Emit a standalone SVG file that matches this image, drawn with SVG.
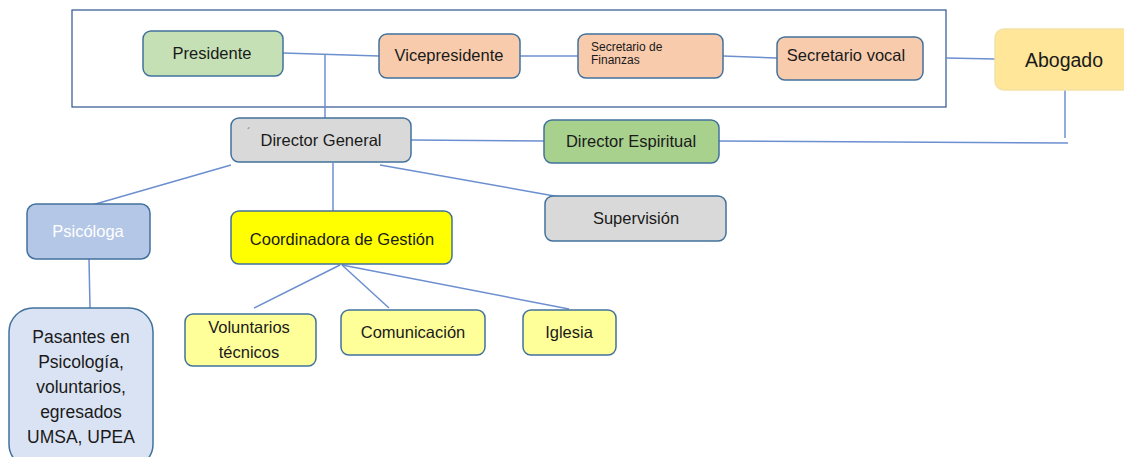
<svg xmlns="http://www.w3.org/2000/svg" width="1124" height="457" viewBox="0 0 1124 457">
<style>
.n{stroke:#41719C;stroke-width:1.5}
.t{font-family:"Liberation Sans",Arial,sans-serif;font-size:16.5px;fill:#1a1a1a;text-anchor:middle}
.c{stroke:#6C8FD0;stroke-width:1.5;fill:none}
</style>
<rect width="1124" height="457" fill="#ffffff"/>
<rect x="72" y="10" width="874" height="97" fill="none" stroke="#2F528F" stroke-width="1.2"/>
<g id="connectors">
<line class="c" x1="283" y1="53" x2="379" y2="56"/>
<line class="c" x1="325" y1="54" x2="325" y2="118"/>
<line class="c" x1="520" y1="56" x2="578" y2="56"/>
<line class="c" x1="723" y1="56" x2="777" y2="58"/>
<line class="c" x1="946" y1="58" x2="995" y2="59"/>
<line class="c" x1="1065" y1="90" x2="1065" y2="138"/>
<line class="c" x1="719" y1="141" x2="1068" y2="143"/>
<line class="c" x1="411" y1="140" x2="544" y2="141"/>
<line class="c" x1="231" y1="165" x2="92" y2="205"/>
<line class="c" x1="333" y1="163" x2="333" y2="211"/>
<line class="c" x1="380" y1="165" x2="560" y2="197"/>
<line class="c" x1="89" y1="259" x2="90" y2="308"/>
<line class="c" x1="340" y1="265" x2="254" y2="308"/>
<line class="c" x1="342" y1="265" x2="389" y2="308"/>
<line class="c" x1="342" y1="265" x2="569" y2="309"/>
</g>
<g id="presidente"><rect class="n" x="143" y="31" width="140" height="45" rx="8" fill="#C5E0B4"/><text class="t" x="212" y="59">Presidente</text></g>
<g id="vicepresidente"><rect class="n" x="379" y="34" width="141" height="44" rx="8" fill="#F8CBAD"/><text class="t" x="449" y="61">Vicepresidente</text></g>
<g id="secretario-finanzas"><rect class="n" x="578" y="34" width="145" height="44" rx="8" fill="#F8CBAD"/><text x="591" y="51" font-family="Liberation Sans, Arial, sans-serif" font-size="12" fill="#1a1a1a">Secretario de</text><text x="591" y="64" font-family="Liberation Sans, Arial, sans-serif" font-size="12" fill="#1a1a1a">Finanzas</text></g>
<g id="secretario-vocal"><rect class="n" x="777" y="37" width="146" height="43" rx="8" fill="#F8CBAD"/><text class="t" x="846" y="61">Secretario vocal</text></g>
<g id="abogado"><rect x="995" y="29" width="140" height="61" rx="9" fill="#FFE699" stroke="#F3E2A6" stroke-width="1.5"/><text class="t" x="1064" y="67" style="font-size:19.5px">Abogado</text></g>
<g id="director-general"><rect class="n" x="231" y="118" width="180" height="44" rx="8" fill="#D9D9D9"/><text x="247" y="136" font-family="Liberation Sans, Arial, sans-serif" font-size="10" fill="#555">´</text><text class="t" x="321" y="146">Director General</text></g>
<g id="director-espiritual"><rect class="n" x="544" y="120" width="175" height="43" rx="8" fill="#A9D18E"/><text class="t" x="631" y="147">Director Espiritual</text></g>
<g id="psicologa"><rect class="n" x="27" y="204" width="123" height="55" rx="9" fill="#B4C7E7"/><text class="t" x="88" y="237" style="fill:#ffffff">Psicóloga</text></g>
<g id="pasantes"><rect class="n" x="9" y="308" width="144" height="160" rx="24" fill="#DAE3F3"/>
<text class="t" x="81" y="343" style="font-size:17.5px">Pasantes en</text><text class="t" x="81" y="368" style="font-size:17.5px">Psicología,</text><text class="t" x="81" y="393" style="font-size:17.5px">voluntarios,</text><text class="t" x="81" y="418" style="font-size:17.5px">egresados</text><text class="t" x="81" y="443" style="font-size:17.5px">UMSA, UPEA</text></g>
<g id="coordinadora"><rect class="n" x="231" y="211" width="221" height="53" rx="8" fill="#FFFF00"/><text class="t" x="342" y="245">Coordinadora de Gestión</text></g>
<g id="supervision"><rect class="n" x="545" y="196" width="181" height="45" rx="8" fill="#D9D9D9"/><text class="t" x="636" y="224">Supervisión</text></g>
<g id="voluntarios"><rect class="n" x="185" y="314" width="131" height="52" rx="8" fill="#FFFF99"/><text class="t" x="249" y="333">Voluntarios</text><text class="t" x="249" y="358">técnicos</text></g>
<g id="comunicacion"><rect class="n" x="341" y="310" width="144" height="45" rx="8" fill="#FFFF99"/><text class="t" x="413" y="338">Comunicación</text></g>
<g id="iglesia"><rect class="n" x="523" y="310" width="93" height="45" rx="8" fill="#FFFF99"/><text class="t" x="569" y="338">Iglesia</text></g>
</svg>
